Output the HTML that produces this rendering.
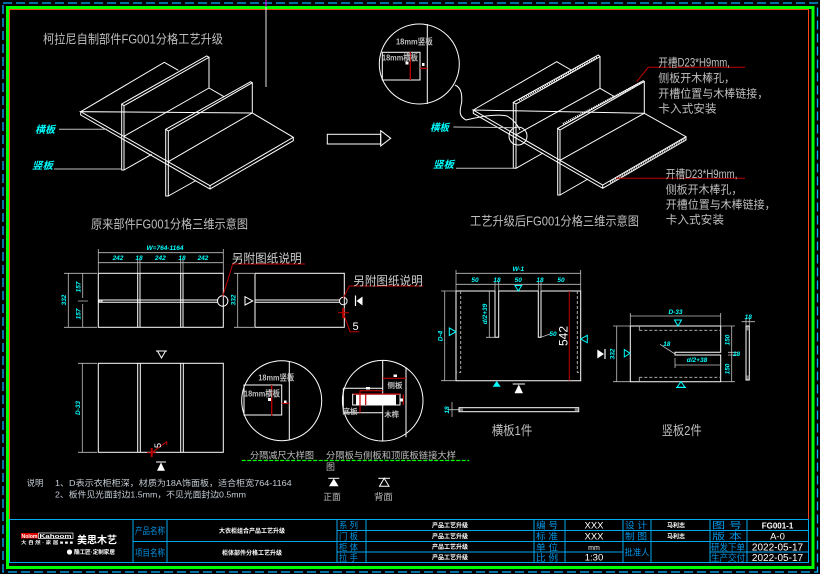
<!DOCTYPE html>
<html><head><meta charset="utf-8"><style>
html,body{margin:0;padding:0;background:#000;}
svg{display:block;}
text{font-family:"Liberation Sans","Noto Sans CJK SC",sans-serif;}
.g{fill:#bfbfbf;}
.c{fill:#00ffff;font-weight:bold;font-style:italic;}
.tb{fill:#0096e6;}
.w{fill:#ffffff;}
</style></head><body>
<svg width="820" height="574" viewBox="0 0 820 574" xmlns="http://www.w3.org/2000/svg">
<rect width="820" height="574" fill="#000"/>
<!-- borders -->
<rect x="3" y="3" width="814.5" height="569" fill="none" stroke="#00b4ff" stroke-width="1.3" stroke-dasharray="9,4"/>
<rect x="7.5" y="7.5" width="805.5" height="560" fill="none" stroke="#00ff00" stroke-width="3"/>
<path d="M9.5,519 V9.5 H808.5 V519" fill="none" stroke="#ff4010" stroke-width="1"/>

<!-- top vertical line -->
<line x1="266" y1="0" x2="266" y2="87" stroke="#e6e6e6" stroke-width="1"/>
<line x1="266" y1="0" x2="266" y2="7" stroke="#ff00ff" stroke-width="1"/>

<!-- Title top-left -->
<text x="43" y="43.5" font-size="12.5" class="g" textLength="180" lengthAdjust="spacingAndGlyphs">柯拉尼自制部件FG001分格工艺升级</text>

<!-- 3D original -->
<g stroke="#ffffff" stroke-width="1" fill="none">
<path d="M80.7,111.7 L164.3,62.3 L178.3,70.3 M209,88 L224,96.7 M252.3,113 L293.3,137.3 L210,185.7 L80.7,111.7 Z"/>
<path d="M80.7,111.7 V115 L210,189 L293.3,140.7 V137.3 M210,185.7 V189"/>
<path d="M121.7,104 L206.7,56 L209,57.3 L124,105.7 Z M121.7,104 V170 H124 V105.7 M209,57.3 V88 M124,136.3 L209,88 M124,170 L151.7,154.3"/>
<path d="M165.7,129.3 L250.7,81.7 L252.3,82.7 L168.3,131 Z M165.7,129.3 V196 H168.3 V131 M252.3,82.7 V113 M168.3,161.7 L252.3,113 M168.3,196 L196,180.5"/>
</g>
<text x="35" y="133" font-size="10" class="c" textLength="20" lengthAdjust="spacingAndGlyphs">横板</text>
<text x="32" y="169" font-size="10" class="c" textLength="21" lengthAdjust="spacingAndGlyphs">竖板</text>
<line x1="59" y1="129.3" x2="107" y2="129.3" stroke="#c0c0c0"/>
<line x1="54" y1="169" x2="121.7" y2="169" stroke="#c0c0c0"/>
<text x="91" y="228.5" font-size="12.5" class="g" textLength="157" lengthAdjust="spacingAndGlyphs">原来部件FG001分格三维示意图</text>

<!-- arrow -->
<g stroke="#ffffff" fill="none">
<rect x="327.3" y="134.3" width="53.4" height="9.7"/>
<polygon points="380.7,130.7 390.7,138.3 380.7,146"/>
</g>

<!-- detail circle top -->
<g stroke="#ffffff" fill="none">
<circle cx="419.3" cy="64" r="40"/>
<line x1="427.3" y1="24" x2="427.3" y2="104"/>
<rect x="382.3" y="52.3" width="37.7" height="27.7"/>
<path d="M455,85 C462,88 462,96 461.7,102 C460,110 458,116 466,120 C475,118 495,113 507,116 C514,120 518,126 520,130"/>
<circle cx="518" cy="136" r="9"/>
</g>
<g stroke="#c00000" stroke-width="1.3">
<line x1="410.3" y1="52" x2="410.3" y2="80"/>
<line x1="420" y1="68.3" x2="427.3" y2="68.3"/>
</g>
<text x="396" y="44.5" font-size="8.5" font-weight="bold" class="g" textLength="36.7" lengthAdjust="spacingAndGlyphs">18mm竖板</text>
<text x="382" y="60.5" font-size="8.5" font-weight="bold" class="g" textLength="36" lengthAdjust="spacingAndGlyphs">18mm横板</text>
<rect x="405.5" y="61.5" width="3" height="3" fill="#fff"/>
<rect x="422" y="63" width="2.5" height="3" fill="#fff"/>

<!-- 3D upgraded -->
<g stroke="#ffffff" stroke-width="1" fill="none">
<path d="M473.3,110 L556.7,61.7 L571,70 M600,88.3 L615,97 M644.3,113.3 L686,136.7 L602.7,185 L473.3,110 Z"/>
<path d="M473.3,110 V113.3 L602.7,188.3 L686,140 V136.7 M602.7,185 V188.3"/>
<path d="M513.3,102.3 L598.3,55 L600,56.7 L516,104 Z M513.3,102.3 V168.3 H516 V104 M600,56.7 V88.3 M516,134.8 L600,88.3 M516,168.3 L543,153"/>
<path d="M557.7,128.3 L643.3,80.7 L644.3,81.5 L560,130 Z M557.7,128.3 V195 H560 V130 M644.3,81.5 V113.3 M560,160.3 L644.3,113.3 M560,195 L588,179"/>
</g>
<g stroke="#ffffff" stroke-width="2.2" stroke-dasharray="1,1" fill="none">
<line x1="519" y1="100" x2="598" y2="57"/>
<line x1="563" y1="124" x2="642" y2="82"/>
<line x1="610" y1="182" x2="685" y2="138.5"/>
</g>
<text x="430" y="131" font-size="10" class="c" textLength="19" lengthAdjust="spacingAndGlyphs">横板</text>
<text x="433" y="168" font-size="10" class="c" textLength="21" lengthAdjust="spacingAndGlyphs">竖板</text>
<line x1="453.3" y1="127" x2="513.3" y2="127.7" stroke="#c0c0c0"/>
<line x1="456" y1="168.3" x2="515" y2="168.3" stroke="#c0c0c0"/>
<text x="470" y="225.5" font-size="12.5" class="g" textLength="169" lengthAdjust="spacingAndGlyphs">工艺升级后FG001分格三维示意图</text>

<!-- red leaders & notes top right -->
<polyline points="636.7,81.7 648.3,67.3 745,67.3" fill="none" stroke="#c00000" stroke-width="1"/>
<line x1="616" y1="178.3" x2="745" y2="178.3" stroke="#c00000" stroke-width="1"/>
<g font-size="11.5" class="g">
<text x="658.3" y="66.6" textLength="71.7" lengthAdjust="spacingAndGlyphs">开槽D23*H9mm,</text>
<text x="658.3" y="82" textLength="76.7" lengthAdjust="spacingAndGlyphs">侧板开木棒孔，</text>
<text x="658.3" y="97.6" textLength="110" lengthAdjust="spacingAndGlyphs">开槽位置与木棒链接，</text>
<text x="658.3" y="112.6" textLength="58.3" lengthAdjust="spacingAndGlyphs">卡入式安装</text>
<text x="665.7" y="178" textLength="71.7" lengthAdjust="spacingAndGlyphs">开槽D23*H9mm,</text>
<text x="665.7" y="193.6" textLength="76.7" lengthAdjust="spacingAndGlyphs">侧板开木棒孔，</text>
<text x="665.7" y="208.3" textLength="110" lengthAdjust="spacingAndGlyphs">开槽位置与木棒链接，</text>
<text x="665.7" y="223.6" textLength="58.3" lengthAdjust="spacingAndGlyphs">卡入式安装</text>
</g>

<!-- ===== Middle-left plan view ===== -->
<g stroke="#ffffff" fill="none">
<rect x="98.3" y="273.3" width="125" height="54"/>
<path d="M137.7,273.3 V327.3 M140,273.3 V327.3 M180.7,273.3 V327.3 M183,273.3 V327.3"/>
<path d="M98.3,300 H218 M98.3,302.3 H218"/>
<rect x="99" y="300.3" width="3" height="1.6"/>
<circle cx="222.7" cy="301" r="5.2"/>
</g>
<g stroke="#bfbfbf" fill="none" stroke-width="0.8">
<path d="M98.3,249 V273 M223.3,249 V273 M98.3,252.7 H223.3 M98.3,262.7 H223.3 M137.7,259 V273 M140,259 V273 M180.7,259 V273 M183,259 V273"/>
<path d="M64,273.3 H97 M64,327.3 H97 M78,301 H88 M68.3,273.3 V327.3 M82.7,273.3 V298 M82.7,304 V327.3"/>
</g>
<g font-size="6.5" class="c" text-anchor="middle">
<text x="165" y="250">W=764-1164</text>
<text x="118" y="260">242</text>
<text x="139" y="260">18</text>
<text x="160.3" y="260">242</text>
<text x="182" y="260">18</text>
<text x="203" y="260">242</text>
<text transform="translate(66,300) rotate(-90)">332</text>
<text transform="translate(80.5,287) rotate(-90)">157</text>
<text transform="translate(80.5,314) rotate(-90)">157</text>
</g>
<polyline points="222.7,296.5 232.7,264 305,264" fill="none" stroke="#c00000"/>
<text x="231.7" y="262.5" font-size="12" fill="#d0d0d0" textLength="70" lengthAdjust="spacingAndGlyphs">另附图纸说明</text>

<!-- side view -->
<g stroke="#ffffff" fill="none">
<rect x="255" y="273.3" width="89.3" height="54"/>
<path d="M255,300 H339.5 M255,302.3 H339.5"/>
<circle cx="343.3" cy="301" r="3.8"/>
<path d="M245,296.7 L252.7,301 L245,305 Z"/>
</g>
<line x1="355.5" y1="295.5" x2="355.5" y2="306" stroke="#fff" stroke-width="1.2"/>
<polygon points="356.5,301 362.5,296.5 362.5,305.5" fill="#fff"/>
<g stroke="#bfbfbf" fill="none" stroke-width="0.8">
<path d="M234,273.3 H254 M234,327.3 H254 M237.7,273.3 V327.3"/>
</g>
<text transform="translate(235.5,300) rotate(-90)" font-size="6.5" class="c" text-anchor="middle">332</text>
<polyline points="343.3,298 349.3,286 423.3,286" fill="none" stroke="#c00000"/>
<text x="353.3" y="285" font-size="12" fill="#d0d0d0" textLength="69.4" lengthAdjust="spacingAndGlyphs">另附图纸说明</text>
<g stroke="#c00000" fill="none">
<line x1="338" y1="312.7" x2="349" y2="312.7"/>
<line x1="343.3" y1="308" x2="343.3" y2="318" stroke-width="2.2"/>
<polyline points="343.3,312.7 350,331.7 359,331.7"/>
</g>
<text x="352.5" y="330" font-size="11" fill="#ffffff">5</text>

<!-- ===== Lower-left front view ===== -->
<g stroke="#ffffff" fill="none">
<rect x="98.3" y="363.3" width="125" height="89"/>
<path d="M137.7,363.3 V452.3 M140.3,363.3 V452.3 M180.7,363.3 V452.3 M183.3,363.3 V452.3"/>
<path d="M156,351 H167 M157.5,351 L161.5,358 L165.5,351"/>
<path d="M156,462 H166"/>
</g>
<polygon points="161,462.5 157,470.7 165,470.7" fill="#fff"/>
<g stroke="#bfbfbf" fill="none" stroke-width="0.8">
<path d="M78,363.3 H97 M78,452.3 H97 M82.3,363.3 V452.3"/>
</g>
<text transform="translate(80,408) rotate(-90)" font-size="6.5" class="c" text-anchor="middle">D-33</text>
<g stroke="#c00000" fill="none">
<line x1="147" y1="452.7" x2="156" y2="452.7"/>
<line x1="151.7" y1="448" x2="151.7" y2="457" stroke-width="2"/>
<polyline points="151.7,452.7 166.7,441.7 166.7,445"/>
</g>
<text transform="translate(161,448) rotate(-90)" font-size="9" fill="#fff">5</text>

<!-- detail circle 1 -->
<g stroke="#ffffff" fill="none">
<circle cx="281.7" cy="400.7" r="40"/>
<line x1="289.3" y1="361.5" x2="289.3" y2="439.5"/>
<rect x="244" y="385" width="37.7" height="30"/>
</g>
<g stroke="#c00000" stroke-width="1.3">
<line x1="271.7" y1="385" x2="271.7" y2="415.5"/>
<line x1="281.7" y1="403.3" x2="289.3" y2="403.3"/>
</g>
<rect x="268" y="398" width="3" height="3" fill="#fff"/>
<rect x="284" y="400.5" width="2.5" height="2.5" fill="#fff"/>
<text x="258.3" y="380.5" font-size="8.5" font-weight="bold" class="g" textLength="36" lengthAdjust="spacingAndGlyphs">18mm竖板</text>
<text x="244" y="396.5" font-size="8.5" font-weight="bold" class="g" textLength="36" lengthAdjust="spacingAndGlyphs">18mm横板</text>

<!-- detail circle 2 -->
<g stroke="#ffffff" fill="none">
<circle cx="382.7" cy="400.7" r="40.3"/>
<line x1="382.7" y1="360.5" x2="382.7" y2="440.7"/>
<line x1="406" y1="367.3" x2="406" y2="437.3"/>
<path d="M343.3,388.3 H382.7 M343.3,412.7 H382.7 M343.3,388.3 V412.7"/>
<rect x="352.7" y="394.3" width="47.3" height="10.7"/>
</g>
<rect x="356" y="394.8" width="40" height="9.8" fill="#fff"/>
<g stroke="#c00000" stroke-width="1.2" fill="none">
<line x1="382.7" y1="378.3" x2="406" y2="378.3"/>
<line x1="360" y1="390.7" x2="382.7" y2="390.7"/>
<line x1="353.3" y1="394" x2="400" y2="394"/>
<line x1="360" y1="390.7" x2="360" y2="412.7"/>
<line x1="365.7" y1="394.3" x2="365.7" y2="405"/>
<line x1="403.3" y1="394.3" x2="403.3" y2="405"/>
</g>
<rect x="393.5" y="374.5" width="3.5" height="2.5" fill="#fff"/>
<rect x="366" y="387" width="4" height="2.5" fill="#fff"/>
<rect x="400.5" y="398.5" width="2.5" height="3" fill="#fff"/>
<g font-size="7.5" font-weight="bold" class="g" text-anchor="middle">
<text x="395" y="388">侧板</text>
<text x="350" y="414">底板</text>
<text x="391.7" y="417">木榫</text>
</g>

<!-- captions lower -->
<text x="250" y="458.5" font-size="9" class="g" textLength="64" lengthAdjust="spacingAndGlyphs">分隔减尺大样图</text>
<text x="326" y="458.5" font-size="9" class="g" textLength="130" lengthAdjust="spacingAndGlyphs">分隔板与侧板和顶底板链接大样</text>
<text x="326" y="470" font-size="9" class="g">图</text>
<line x1="241.7" y1="460.5" x2="469.3" y2="460.5" stroke="#00ff00" stroke-width="1.2" stroke-dasharray="4,1.5"/>

<!-- legend -->
<line x1="328.3" y1="478.3" x2="339.3" y2="478.3" stroke="#fff"/>
<polygon points="333.8,478.5 329,486.3 338.6,486.3" fill="#fff"/>
<text x="323.3" y="500" font-size="9" class="g" textLength="17.4" lengthAdjust="spacingAndGlyphs">正面</text>
<g stroke="#fff" fill="none">
<line x1="378.3" y1="478.3" x2="390" y2="478.3"/>
<polygon points="384.2,478.3 379.5,486.3 389,486.3"/>
</g>
<text x="374" y="500" font-size="9" class="g" textLength="18.7" lengthAdjust="spacingAndGlyphs">背面</text>

<!-- notes -->
<g font-size="8.5" fill="#c4ccd4">
<text x="26.7" y="486" textLength="16.6" lengthAdjust="spacingAndGlyphs">说明</text>
<text x="55" y="486" textLength="236.7" lengthAdjust="spacingAndGlyphs">1、D表示衣柜柜深，材质为18A饰面板，适合柜宽764-1164</text>
<text x="55" y="497.5" textLength="191" lengthAdjust="spacingAndGlyphs">2、板件见光面封边1.5mm，不见光面封边0.5mm</text>
</g>

<!-- ===== 横板 view ===== -->
<g stroke="#ffffff" fill="none">
<path d="M456,291 H495 V337.3 H498.7 V291 H538.3 V337.3 H541 V291 H580.7 V380.7 H456 Z"/>
</g>
<g stroke="#bfbfbf" fill="none" stroke-dasharray="3,2" stroke-width="0.9">
<path d="M460.7,291 V372.3 H456 M577.3,291 V372.3 H580.7"/>
</g>
<line x1="569.3" y1="291" x2="569.3" y2="380.7" stroke="#c00000"/>
<g stroke="#bfbfbf" fill="none" stroke-width="0.8">
<path d="M456,270 V291 M580.7,270 V291 M456,273.3 H580.7 M456,284.3 H580.7 M495,281 V291 M498.7,281 V291 M538.3,281 V291 M541,281 V291"/>
<path d="M441,291 H456 M441,380.7 H456 M444.7,291 V380.7 M486,337.3 H495 M489.3,291 V337.3 M541,337.3 L550,334"/>
<path d="M452,402 V417 M448,409.7 H459"/>
</g>
<g font-size="6.5" class="c" text-anchor="middle">
<text x="518.3" y="271">W-1</text>
<text x="475" y="282">50</text>
<text x="497" y="282">18</text>
<text x="518.3" y="282">50</text>
<text x="540" y="282">18</text>
<text x="561" y="282">50</text>
<text transform="translate(442.5,336) rotate(-90)">D-4</text>
<text transform="translate(487,314) rotate(-90)">d/2+39</text>
<text x="553" y="336">50</text>
<text transform="translate(449,410) rotate(-90)">18</text>
</g>
<text transform="translate(567.5,336) rotate(-90)" font-size="12" fill="#fff" text-anchor="middle">542</text>
<g stroke="#00ffff" fill="none">
<path d="M449.3,328 L456,331.7 L449.3,335.5 Z"/>
<path d="M587.3,335.3 L580.7,339 L587.3,342.7 Z"/>
<path d="M515,285.5 L521.7,285.5 L518.3,291 Z"/>
</g>
<polygon points="496.7,381 492.7,386.7 500.7,386.7" fill="#00ffff"/>
<line x1="512.7" y1="384" x2="525" y2="384" stroke="#fff"/>
<polygon points="518.8,384.5 514.5,393.3 523,393.3" fill="#fff"/>
<g stroke="#ffffff" fill="none">
<rect x="459" y="407.7" width="119.7" height="4"/>
</g>
<rect x="459.5" y="408.2" width="3.5" height="3" fill="#777"/>
<rect x="574.7" y="408.2" width="3.5" height="3" fill="#777"/>
<text x="491.7" y="435" font-size="13" class="g" textLength="40.6" lengthAdjust="spacingAndGlyphs">横板1件</text>

<!-- ===== 竖板 view ===== -->
<g stroke="#ffffff" fill="none">
<path d="M630.3,326 H720.7 V352.3 H675 V355 H720.7 V381.7 H630.3 Z"/>
<rect x="746" y="326" width="3.3" height="54"/>
</g>
<rect x="746.3" y="326.5" width="2.8" height="4" fill="#777"/>
<rect x="746.3" y="375.5" width="2.8" height="4" fill="#777"/>
<g stroke="#bfbfbf" fill="none" stroke-dasharray="3,2" stroke-width="0.9">
<path d="M639.3,330.3 H720 M639.3,377.3 H720"/>
</g>
<g stroke="#bfbfbf" fill="none" stroke-width="0.8">
<path d="M639.3,326 V330.3 M639.3,377.3 V381.7"/>
<path d="M630.3,313 V326 M720.7,313 V326 M630.3,316 H720.7"/>
<path d="M613,326 H630 M613,381.7 H630 M616.7,326 V381.7"/>
<path d="M721,326 H735 M721,381.7 H735 M728,352.3 H737 M728,355 H737 M731.7,326 V381.7"/>
<path d="M675,358 V368 M675,365 H720.7 M660,344.3 L675,354"/>
<path d="M741.7,321.7 H755 M746,318 V326 M749.3,318 V326"/>
</g>
<g font-size="6.5" class="c" text-anchor="middle">
<text x="675.5" y="314">D-33</text>
<text transform="translate(614.5,354) rotate(-90)">332</text>
<text transform="translate(729.5,340) rotate(-90)">150</text>
<text transform="translate(729.5,369) rotate(-90)">150</text>
<text x="736.5" y="356">18</text>
<text x="697" y="362">d/2+38</text>
<text x="666.7" y="346">18</text>
<text x="748.3" y="319">18</text>
</g>
<g stroke="#00ffff" fill="none">
<path d="M674.5,320 L681.5,320 L678,326 Z"/>
<path d="M677,387.3 L681,381.7 L685,387.3 Z M676,387.5 H686"/>
<path d="M624.3,349.5 L630,353.3 L624.3,357 Z"/>
</g>
<line x1="605" y1="349" x2="605" y2="359" stroke="#fff" stroke-width="1.2"/>
<polygon points="597.3,349.5 604,354 597.3,358.5" fill="#fff"/>
<text x="661.7" y="435" font-size="13" class="g" textLength="40" lengthAdjust="spacingAndGlyphs">竖板2件</text>

<!-- ===== Title block ===== -->
<g stroke="#00a8f0" stroke-width="1" fill="none">
<rect x="9.5" y="519.5" width="799" height="43"/>
<path d="M133,519.5 V562.5 M167,519.5 V562.5 M337,519.5 V562.5 M366,519.5 V562.5 M534,519.5 V562.5 M565,519.5 V562.5 M623,519.5 V562.5 M651,519.5 V562.5 M710,519.5 V562.5 M747,519.5 V562.5"/>
<path d="M133,541.5 H337 M337,530.5 H808.5 M337,541.5 H808.5 M337,552 H623 M710,552 H808.5"/>
</g>
<!-- logo -->
<rect x="21" y="533" width="17" height="5.5" fill="#e00000"/>
<text x="21.5" y="537.8" font-size="5.5" font-weight="bold" fill="#fff" textLength="16" lengthAdjust="spacingAndGlyphs">Nolom</text>
<rect x="38.5" y="533" width="34.5" height="5.5" fill="none" stroke="#fff" stroke-width="0.7"/>
<text x="39.5" y="537.8" font-size="5.5" font-weight="bold" fill="#fff" textLength="32" lengthAdjust="spacingAndGlyphs">Kahoom</text>
<text x="21" y="544" font-size="4.5" font-weight="bold" fill="#fff" textLength="52" lengthAdjust="spacingAndGlyphs">大 自 然 · 家 居 ■ ■ ■</text>
<text x="77" y="543.5" font-size="10" font-weight="bold" fill="#fff" textLength="40" lengthAdjust="spacingAndGlyphs">美思木艺</text>
<circle cx="69.5" cy="552" r="2.6" fill="#fff"/>
<text x="74" y="554" font-size="5.5" font-weight="bold" fill="#fff" textLength="41" lengthAdjust="spacingAndGlyphs">酷工匠·定制家居</text>
<g font-size="9" class="tb">
<text x="135" y="534" textLength="30" lengthAdjust="spacingAndGlyphs">产品名称</text>
<text x="135" y="556" textLength="30" lengthAdjust="spacingAndGlyphs">项目名称</text>
<text x="339" y="528.5" textLength="19" lengthAdjust="spacingAndGlyphs">系 列</text>
<text x="339" y="539.5" textLength="19" lengthAdjust="spacingAndGlyphs">门 板</text>
<text x="339" y="550.3" textLength="19" lengthAdjust="spacingAndGlyphs">柜 体</text>
<text x="339" y="560.8" textLength="19" lengthAdjust="spacingAndGlyphs">拉 手</text>
<text x="536" y="528.5" textLength="22" lengthAdjust="spacingAndGlyphs">编 号</text>
<text x="536" y="539.5" textLength="22" lengthAdjust="spacingAndGlyphs">标 准</text>
<text x="536" y="550.3" textLength="22" lengthAdjust="spacingAndGlyphs">单 位</text>
<text x="536" y="560.8" textLength="22" lengthAdjust="spacingAndGlyphs">比 例</text>
<text x="625" y="528.5" textLength="22" lengthAdjust="spacingAndGlyphs">设 计</text>
<text x="625" y="539.5" textLength="22" lengthAdjust="spacingAndGlyphs">制 图</text>
<text x="624.5" y="555.5" textLength="25" lengthAdjust="spacingAndGlyphs">批准人</text>
<text x="712" y="528.5" textLength="30" lengthAdjust="spacingAndGlyphs">图 号</text>
<text x="712" y="539.5" textLength="30" lengthAdjust="spacingAndGlyphs">版 本</text>
<text x="711" y="550.3" textLength="34" lengthAdjust="spacingAndGlyphs">研发下单</text>
<text x="711" y="560.8" textLength="34" lengthAdjust="spacingAndGlyphs">生产交付</text>
</g>
<g font-size="6" font-weight="bold" fill="#fff" text-anchor="middle">
<text x="252" y="533">大衣柜组合产品工艺升级</text>
<text x="252" y="555">柜体部件分格工艺升级</text>
<text x="450" y="527.5">产品工艺升级</text>
<text x="450" y="538.5">产品工艺升级</text>
<text x="450" y="549">产品工艺升级</text>
<text x="450" y="559.5">产品工艺升级</text>
<text x="676" y="527.5">马利志</text>
<text x="676" y="538.5">马利志</text>
</g>
<g font-size="9.5" fill="#fff" text-anchor="middle">
<text x="594" y="528.5">XXX</text>
<text x="594" y="539.5">XXX</text>
<text x="594" y="550" font-size="7">mm</text>
<text x="594" y="560.5">1:30</text>
<text x="777.5" y="528.5" font-size="8" font-weight="bold">FG001-1</text>
<text x="777.5" y="539.5">A-0</text>
<text x="777.5" y="550.3" font-size="10">2022-05-17</text>
<text x="777.5" y="560.8" font-size="10">2022-05-17</text>
</g>
</svg>
</body></html>
